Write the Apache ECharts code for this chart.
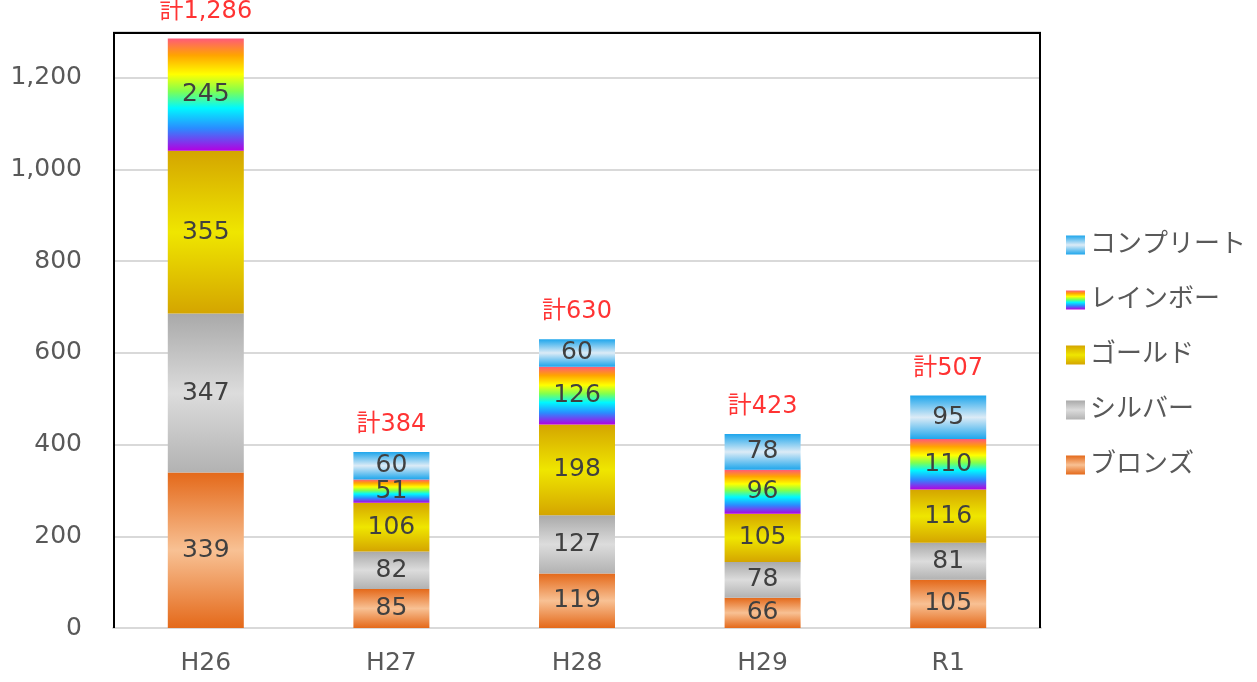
<!DOCTYPE html>
<html><head><meta charset="utf-8">
<script src="https://cdn.jsdelivr.net/npm/echarts@6/dist/echarts.min.js"></script>
<style>html,body{margin:0;padding:0;background:#fff}#c{width:1257px;height:682px}</style>
</head><body><div id="c"></div>
<script>
const categories = ['H26','H27','H28','H29','R1'];
const bronze   = [339, 85, 119, 66, 105];
const silver   = [347, 82, 127, 78, 81];
const gold     = [355, 106, 198, 105, 116];
const rainbow  = [245, 51, 126, 96, 110];
const complete = [null, 60, 60, 78, 95];
const yTicks = {min: 0, max: 1300, interval: 200};

const totals = categories.map((c, i) =>
  [bronze, silver, gold, rainbow, complete].reduce((s, a) => s + (a[i] || 0), 0));

const FONT = "'DejaVu Sans', 'Noto Sans CJK JP', sans-serif";
function vg(stops) {
  return new echarts.graphic.LinearGradient(0, 0, 0, 1, stops.map(s => ({offset: s[0], color: s[1]})));
}
const colors = {
  'ブロンズ': vg([[0,'#e4691a'],[0.5,'#f8c194'],[1,'#e4691a']]),
  'シルバー': vg([[0,'#a9a9a9'],[0.5,'#dcdcdc'],[1,'#b2b2b2']]),
  'ゴールド': vg([[0,'#d4a500'],[0.5,'#efe600'],[1,'#d4a500']]),
  'レインボー': vg([[0,'#ff5a7a'],[0.15,'#ffa400'],[0.32,'#ffff00'],[0.47,'#80ff50'],[0.62,'#00f8ff'],[0.8,'#2a8cff'],[1,'#b400e0']]),
  'コンプリート': vg([[0,'#1ea6ec'],[0.5,'#dcebf6'],[1,'#1ea6ec']])
};
const seriesData = [['ブロンズ', bronze], ['シルバー', silver], ['ゴールド', gold], ['レインボー', rainbow], ['コンプリート', complete]];

const chart = echarts.init(document.getElementById('c'), null, {renderer: 'canvas'});
const series = seriesData.map(([name, arr]) => ({
  name, type: 'bar', stack: 'total', data: arr, barWidth: 76,
  itemStyle: {color: colors[name]},
  label: {show: true, position: 'inside', color: '#404040', fontSize: 25, fontFamily: FONT},
  z: 3
}));
series.push({
  name: '計', type: 'scatter', data: totals, symbolSize: 0, silent: true,
  label: {show: true, position: 'top', distance: 15, color: '#ff0000', fontSize: 24, fontFamily: FONT,
    formatter: p => '計' + Number(p.value).toLocaleString('en-US')},
  z: 5
});

chart.setOption({
  animation: false,
  textStyle: {fontFamily: FONT},
  grid: {left: 113, right: 216, top: 32, bottom: 54, show: false, containLabel: false},
  graphic: [{
    type: 'polyline', z: 100, silent: true,
    shape: {points: [[114, 628], [114, 33], [1040, 33], [1040, 628]]},
    style: {stroke: '#000', lineWidth: 2, fill: null}
  }],
  legend: {
    orient: 'vertical', left: 1061, top: 227,
    data: ['コンプリート','レインボー','ゴールド','シルバー','ブロンズ'],
    icon: 'rect',
    itemWidth: 19, itemHeight: 19, itemGap: 29,
    textStyle: {color: '#595959', fontSize: 26, fontFamily: FONT}
  },
  xAxis: {
    type: 'category', data: categories,
    axisLine: {show: true, lineStyle: {color: '#d9d9d9', width: 2}},
    axisTick: {show: false},
    axisLabel: {color: '#595959', fontSize: 25, margin: 23, fontFamily: FONT}
  },
  yAxis: {
    type: 'value', min: yTicks.min, max: yTicks.max, interval: yTicks.interval,
    axisLine: {show: false}, axisTick: {show: false},
    axisLabel: {color: '#595959', fontSize: 25, margin: 31, showMaxLabel: false, fontFamily: FONT,
      formatter: v => Number(v).toLocaleString('en-US')},
    splitLine: {lineStyle: {color: '#d9d9d9', width: 2}}
  },
  series
});
</script></body></html>
